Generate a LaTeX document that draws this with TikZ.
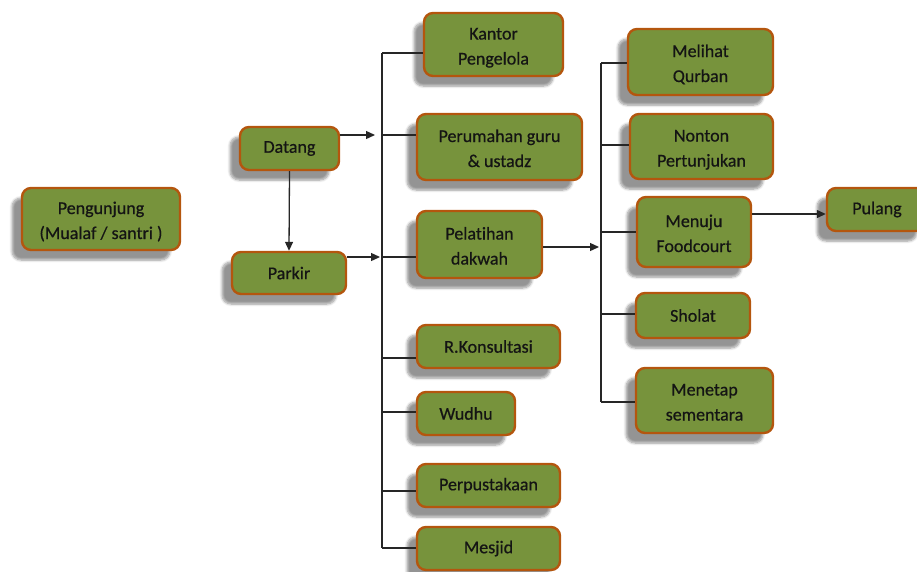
\documentclass[tikz,border=0pt]{standalone}
\usepackage{fontspec}
\setmainfont[Ligatures=NoCommon,FakeBold=0.6]{Carlito}
\usetikzlibrary{arrows.meta,shadows.blur}

\definecolor{boxgreen}{HTML}{77933C}
\definecolor{boxedge}{HTML}{B4560E}
\definecolor{boxtext}{HTML}{141414}
\definecolor{linegray}{HTML}{262626}

\begin{document}
\begin{tikzpicture}[x=1pt,y=-1pt,
  box/.style={draw=boxedge, line width=2.4pt, fill=boxgreen, rounded corners=9pt,
    text=boxtext, inner sep=2pt,
    font=\fontsize{18}{25}\selectfont,
    blur shadow={shadow xshift=-10pt, shadow yshift=-10pt, shadow blur radius=2.5pt,
      shadow blur steps=6, shadow opacity=42}},
  link/.style={draw=linegray, line width=1.3pt},
  arrow/.style={link, -{Triangle[length=9pt,width=8pt]}}]

\useasboundingbox (0,0) rectangle (917,571);

% two-line boxes: name, centre, width, height, text (lines split with \\);
% the extra head room sets the text a little below the box centre
\newcommand{\placebox}[5]{%
  \node[box, minimum width=#3, minimum height=#4] (#1) at #2
    {\raisebox{0pt}[\dimexpr\height+5pt\relax]{\begin{tabular}{@{}c@{}}#5\end{tabular}}};}
% one-line boxes
\newcommand{\placeone}[5]{%
  \node[box, minimum width=#3, minimum height=#4] (#1) at #2 {#5};}

\placebox{peng}{(101,219)}{158}{62}{Pengunjung\\(Mualaf / santri )}
\placeone{datang}{(289.5,148.5)}{99}{43}{Datang}
\placeone{parkir}{(289,273)}{114}{42}{Parkir}

\placebox{kantor}{(493.5,44.5)}{139}{63}{Kantor\\Pengelola}
\placebox{rumah}{(499.5,147)}{165}{66}{Perumahan guru\\\& ustadz}
\placebox{latih}{(479.5,244.5)}{125}{67}{Pelatihan\\dakwah}
\placeone{konsul}{(488.5,346.5)}{143}{43}{R.Konsultasi}
\placeone{wudhu}{(466,413.5)}{98}{43}{Wudhu}
\placeone{pustaka}{(488.5,485.5)}{143}{43}{Perpustakaan}
\placeone{mesjid}{(488.5,548.5)}{143}{43}{Mesjid}

\placebox{qurban}{(700.5,62)}{145}{66}{Melihat\\Qurban}
\placebox{nonton}{(701.5,146.5)}{143}{65}{Nonton\\Pertunjukan}
\placebox{food}{(694,232)}{114}{70}{Menuju\\Foodcourt}
\placeone{sholat}{(693,315.5)}{114}{45}{Sholat}
\placebox{menetap}{(704.5,400.5)}{137}{65}{Menetap\\sementara}
\placeone{pulang}{(877,209.5)}{100}{43}{Pulang}

% left distribution bus
\coordinate (lb1) at (382,53);
\coordinate (lb2) at (382,135);
\coordinate (lb3) at (382,257);
\coordinate (lb4) at (382,358);
\coordinate (lb5) at (382,412);
\coordinate (lb6) at (382,491);
\coordinate (lb7) at (382,548);
\coordinate (lin1) at (375,135);
\coordinate (lin2) at (380,257);

\draw[link] (lb1) -- (lb7);
\foreach \c/\n in {lb1/kantor, lb2/rumah, lb3/latih, lb4/konsul, lb5/wudhu, lb6/pustaka, lb7/mesjid}
  \draw[link] (\c) -- (\c -| \n.west);

\draw[arrow] (lin1 -| datang.east) -- (lin1);
\draw[arrow] (lin2 -| parkir.east) -- (lin2);
\draw[arrow] (datang.south) -- (parkir.north);

% right distribution bus
\coordinate (rb1) at (601,63);
\coordinate (rb2) at (601,145);
\coordinate (rb3) at (601,232);
\coordinate (rb4) at (601,314);
\coordinate (rb5) at (601,402);
\coordinate (rin) at (599,247);

\draw[link] (rb1) -- (rb5);
\foreach \c/\n in {rb1/qurban, rb2/nonton, rb3/food, rb4/sholat, rb5/menetap}
  \draw[link] (\c) -- (\c -| \n.west);

\draw[arrow] (rin -| latih.east) -- (rin);

\coordinate (pout) at (751,214);
\draw[arrow] (pout -| food.east) -- (pout -| pulang.west);

\end{tikzpicture}
\end{document}
